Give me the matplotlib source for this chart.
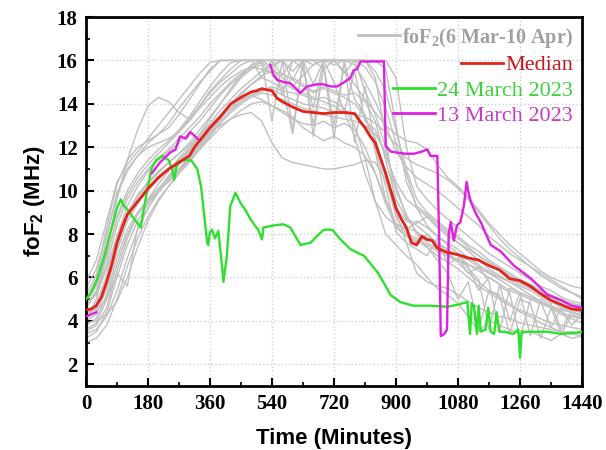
import matplotlib
matplotlib.use("Agg")
import matplotlib.pyplot as plt
from matplotlib.ticker import MultipleLocator

nan = float('nan')

# ---------------- data ----------------
minutes = [0, 30, 60, 90, 120, 150, 180, 210,
           240, 270, 300, 330, 360, 390, 420, 450,
           480, 510, 540, 570, 600, 630, 660, 690,
           720, 750, 780, 810, 840, 870, 900, 930,
           960, 990, 1020, 1050, 1080, 1110, 1140, 1170,
           1200, 1230, 1260, 1290, 1320, 1350, 1380, 1410,
           1440]

gray_days = [
    [4.0, 5.0, 7.2, 9.6, 11.4, 12.8, 13.9, 14.3,
     14.1, 13.6, 13.3, 13.9, 14.6, 15.1, 15.6, 16.0,
     16.0, 16.0, 16.0, 15.3, 16.0, 16.0, 14.9, 16.0,
     16.0, 16.0, 15.8, 15.0, 14.1, 13.0, 11.8, 11.1,
     10.6, 10.3, 10.0, 9.6, 9.2, 8.8, 8.4, 7.9,
     7.5, 7.1, 6.8, 6.5, 6.2, 5.9, 5.6, 5.3,
     5.0],
    [3.2, 3.5, 4.4, 6.0, 7.5, 8.6, 9.4, 10.0,
     10.6, 11.2, 11.8, 12.3, 12.7, 13.0, 13.3, 13.5,
     13.6, 13.2, 12.2, 11.5, 11.3, 11.2, 11.1, 11.0,
     11.0, 11.1, 11.2, 11.4, 11.3, 10.5, 9.0, 7.6,
     6.2, 5.8, 5.6, 5.5, 5.2, 4.9, 4.6, 4.4,
     4.2, 4.1, 3.9, 3.8, 3.7, 3.6, 3.5, 3.5,
     3.4],
    [5.5, 6.4, 8.0, 9.8, 10.9, 11.6, 12.2, 12.6,
     13.1, 13.8, 14.4, 15.0, 15.5, 16.0, 16.0, 16.0,
     16.0, 16.0, 16.0, 16.0, 16.0, 16.0, 16.0, 16.0,
     16.0, 16.0, 16.0, 16.0, 15.2, 12.5, 9.2, 8.6,
     8.4, 8.0, 7.6, 7.3, 7.0, 6.6, 6.3, 6.0,
     5.7, 5.4, 5.2, 5.0, 4.8, 4.6, 4.4, 4.2,
     4.1],
    [4.6, 5.3, 6.6, 8.4, 9.6, 10.4, 11.0, 11.5,
     11.9, 12.4, 12.9, 13.4, 14.0, 14.5, 15.0, 15.4,
     15.7, 15.9, 15.6, 15.2, 14.8, 15.3, 15.8, 16.0,
     16.0, 15.5, 14.9, 14.2, 13.6, 13.0, 12.6, 12.3,
     12.2, 11.9, 11.2, 10.6, 10.2, 9.7, 9.1, 8.5,
     8.0, 7.5, 7.1, 6.7, 6.3, 6.0, 5.8, 5.6,
     5.5],
    [3.8, 4.1, 5.2, 6.9, 8.2, 9.0, 9.6, 10.1,
     10.6, 11.0, 11.4, 11.9, 12.4, 12.9, 13.3, 13.7,
     14.0, 14.1, 13.9, 13.6, 13.3, 13.1, 13.0, 13.2,
     12.9, 13.1, 12.8, 12.0, 10.8, 9.4, 8.3, 7.9,
     7.7, 7.4, 7.0, 6.7, 6.4, 6.0, 5.6, 5.3,
     5.0, 4.7, 4.5, 4.3, 4.1, 3.9, 3.8, 3.7,
     3.6],
    [4.3, 4.8, 6.1, 7.9, 9.3, 10.2, 10.9, 11.4,
     11.8, 12.2, 12.7, 13.2, 13.8, 14.4, 14.9, 15.3,
     15.6, 15.8, 15.4, 14.8, 12.6, 15.9, 13.0, 15.7,
     12.4, 15.9, 14.2, 13.5, 11.8, 9.6, 8.5, 8.2,
     8.6, 8.3, 7.9, 7.6, 7.3, 6.9, 6.6, 6.2,
     5.9, 5.6, 5.3, 5.1, 4.9, 4.7, 4.5, 4.4,
     4.3],
    [3.0, 3.2, 3.8, 5.0, 6.5, 7.8, 8.8, 9.6,
     10.2, 10.8, 11.3, 11.9, 12.5, 13.1, 13.6, 14.0,
     14.3, 14.5, 14.4, 14.2, 14.0, 13.8, 13.7, 13.5,
     13.4, 13.3, 13.2, 13.0, 12.6, 11.8, 10.2, 8.8,
     8.1, 7.6, 7.3, 7.0, 6.7, 6.2, 5.8, 5.4,
     5.1, 4.8, 4.4, 4.2, 3.9, 3.7, 3.5, 3.4,
     3.3],
    [5.0, 5.9, 7.8, 9.9, 11.0, 11.6, 12.0, 12.2,
     12.4, 12.7, 13.2, 13.8, 14.3, 14.8, 15.2, 15.5,
     15.7, 15.6, 15.4, 15.0, 14.7, 14.5, 14.3, 14.1,
     13.9, 13.6, 12.5, 10.8, 9.5, 8.8, 8.4, 8.3,
     8.1, 7.8, 7.5, 7.3, 7.0, 6.8, 6.5, 6.3,
     6.0, 5.8, 5.6, 5.4, 5.1, 4.9, 4.6, 4.4,
     4.2],
    [4.8, 5.2, 6.4, 7.9, 9.0, 9.8, 10.4, 10.9,
     11.3, 11.7, 12.2, 12.8, 13.4, 14.0, 14.6, 15.2,
     15.6, 16.0, 16.0, 16.0, 15.1, 16.0, 16.0, 15.6,
     16.0, 15.4, 16.0, 14.6, 13.5, 12.0, 10.0, 8.9,
     8.0, 7.4, 6.8, 6.2, 5.0, 5.8, 3.6, 5.4,
     5.2, 3.4, 5.0, 4.8, 3.2, 4.6, 4.5, 3.8,
     4.3],
    [4.2, 4.6, 5.8, 7.4, 8.8, 9.7, 10.3, 10.8,
     11.3, 11.7, 12.1, 12.6, 13.1, 13.7, 14.2, 14.7,
     15.1, 15.5, 15.8, 16.0, 16.0, 16.0, 15.8, 16.0,
     16.0, 16.0, 16.0, 15.7, 15.0, 13.8, 12.2, 11.5,
     11.2, 11.0, 10.8, 10.5, 10.1, 9.6, 9.0, 8.4,
     7.8, 7.3, 6.9, 6.5, 6.1, 5.8, 5.5, 5.3,
     5.1],
    [3.5, 3.8, 4.6, 6.3, 7.8, 8.9, 9.6, 10.3,
     10.9, 11.5, 12.0, 12.5, 13.0, 13.5, 13.9, 14.2,
     14.4, 14.6, 14.8, 14.6, 14.5, 14.4, 14.2, 14.3,
     14.1, 13.8, 13.0, 11.5, 9.5, 8.0, 7.5, 7.0,
     6.6, 6.0, 5.5, 5.2, 4.8, 4.2, 3.5, 4.0,
     3.8, 3.6, 3.4, 3.5, 3.3, 3.1, 3.4, 3.2,
     3.3],
    [4.4, 4.5, 5.0, 6.2, 5.6, 8.3, 9.2, 9.9,
     10.5, 11.0, 11.6, 12.1, 12.7, 13.3, 13.9, 14.4,
     14.9, 15.3, 15.5, 15.4, 15.1, 14.8, 14.6, 14.7,
     14.5, 14.3, 14.0, 13.4, 12.4, 10.6, 8.8, 8.0,
     7.8, 7.5, 7.2, 7.0, 6.8, 6.6, 6.4, 6.2,
     6.0, 5.9, 5.7, 5.5, 5.3, 5.1, 4.9, 4.7,
     4.6],
    [5.2, 6.1, 8.3, 10.3, 11.4, 12.0, 12.3, 12.6,
     12.9, 13.5, 14.2, 14.9, 15.6, 16.0, 16.0, 16.0,
     16.0, 16.0, 16.0, 16.0, 16.0, 16.0, 16.0, 16.0,
     16.0, 16.0, 16.0, 16.0, 16.0, 15.6, 13.0, 10.4,
     9.3, 8.9, 8.5, 8.1, 7.8, 7.4, 7.0, 6.7,
     6.4, 6.1, 5.8, 5.5, 5.2, 4.9, 4.7, 4.5,
     4.4],
    [4.0, 4.3, 5.5, 7.2, 8.6, 9.4, 10.0, 10.5,
     11.0, 11.4, 11.9, 12.4, 12.9, 13.4, 13.8, 14.1,
     14.4, 14.6, 14.7, 14.4, 14.2, 14.0, 13.9, 13.8,
     13.6, 13.7, 13.5, 13.4, 13.1, 12.7, 12.1, 10.8,
     9.2, 8.4, 7.9, 7.5, 7.1, 6.4, 5.9, 3.6,
     5.6, 5.3, 3.2, 5.0, 4.8, 4.6, 3.4, 4.3,
     4.1],
    [3.6, 3.9, 5.0, 6.6, 8.0, 8.9, 9.5, 10.0,
     10.4, 10.9, 11.5, 12.1, 12.8, 13.4, 14.0, 14.5,
     14.9, 15.2, 15.0, 14.7, 15.2, 14.9, 14.5, 14.8,
     14.6, 14.4, 14.5, 14.1, 13.2, 11.4, 9.6, 8.7,
     8.5, 8.8, 8.4, 8.0, 7.6, 7.3, 7.0, 6.7,
     6.4, 6.1, 5.8, 5.5, 5.3, 5.1, 4.9, 4.8,
     4.7],
    [4.9, 5.6, 7.0, 8.7, 9.8, 10.6, 11.2, 11.7,
     12.2, 12.7, 13.3, 13.9, 14.5, 15.0, 15.4, 15.8,
     16.0, 16.0, 15.7, 16.0, 15.5, 16.0, 16.0, 16.0,
     15.8, 16.0, 16.0, 16.0, 15.5, 14.6, 12.8, 11.0,
     9.6, 9.0, 8.6, 8.2, 7.9, 7.5, 7.2, 6.8,
     6.5, 6.2, 5.9, 5.7, 5.4, 5.2, 5.0, 4.8,
     4.7],
    [3.4, 3.6, 4.2, 5.4, 6.9, 8.2, 9.2, 10.0,
     10.7, 11.3, 11.9, 12.6, 13.3, 14.0, 14.7, 15.3,
     15.8, 16.0, 13.2, 16.0, 12.8, 16.0, 12.5, 15.8,
     13.0, 16.0, 12.2, 14.8, 12.0, 10.2, 8.1, 7.6,
     7.3, 7.0, 7.8, 6.6, 6.9, 6.2, 6.5, 5.8,
     3.5, 5.5, 5.3, 3.3, 5.0, 4.8, 3.6, 4.5,
     4.4],
    [4.7, 5.4, 6.9, 8.8, 10.0, 10.8, 11.4, 11.9,
     12.3, 12.8, 13.4, 14.1, 14.8, 15.4, 15.9, 16.0,
     16.0, 16.0, 16.0, 16.0, 16.0, 16.0, 16.0, 16.0,
     16.0, 16.0, 16.0, 16.0, 16.0, 16.0, 15.2, 12.0,
     10.2, 9.6, 9.1, 8.7, 8.3, 7.9, 7.5, 7.1,
     6.8, 6.5, 6.2, 5.9, 5.6, 5.4, 5.1, 4.9,
     4.8],
    [3.9, 4.0, 4.3, 4.9, 6.0, 7.4, 8.6, 9.5,
     10.2, 10.8, 11.4, 12.0, 12.6, 13.2, 13.7, 14.1,
     14.4, 14.2, 13.9, 13.7, 13.4, 12.9, 12.6, 12.3,
     12.5, 12.2, 12.0, 11.6, 10.8, 9.6, 8.4, 7.9,
     7.6, 8.0, 7.4, 7.1, 6.8, 6.5, 5.4, 6.0,
     5.7, 4.0, 5.3, 5.1, 4.9, 3.7, 4.6, 4.5,
     4.4],
    [5.8, 6.8, 8.6, 10.4, 11.2, 11.8, 12.4, 13.0,
     13.6, 14.2, 14.8, 15.4, 15.9, 16.0, 16.0, 16.0,
     16.0, 15.2, 16.0, 14.4, 16.0, 15.6, 13.8, 16.0,
     15.0, 13.6, 15.5, 13.2, 12.8, 11.6, 10.4, 9.6,
     9.2, 8.8, 8.3, 7.9, 7.6, 7.2, 6.8, 6.4,
     6.1, 5.8, 5.5, 5.2, 4.9, 4.6, 4.3, 4.1,
     3.9],
]

median_t = [0, 15, 30, 45, 60, 75, 90, 105, 120,
            150, 180, 210, 240, 270, 300,
            315, 330, 345, 360,
            390, 420, 450, 480,
            495, 510, 525, 540, 555, 570,
            600, 630, 660, 690, 720, 750, 780,
            795, 810, 825, 840, 855, 870, 885, 900,
            915, 930, 945, 960, 975, 990, 1005, 1020,
            1050, 1080, 1110, 1140, 1170, 1200,
            1230, 1260, 1290, 1320, 1350, 1380, 1410, 1440]
median_f = [4.5, 4.55, 4.7, 5.1, 5.8, 6.6, 7.6, 8.3, 8.9,
            9.5, 10.1, 10.6, 11.0, 11.3, 11.6,
            12.0, 12.3, 12.6, 12.9,
            13.4, 14.0, 14.3, 14.55,
            14.6, 14.7, 14.65, 14.6, 14.25, 14.1,
            13.85, 13.65, 13.6, 13.55, 13.6, 13.6, 13.55,
            13.2, 12.9, 12.5, 12.2, 11.5, 10.8, 10.0, 9.2,
            8.7, 8.3, 7.6, 7.5, 7.9, 7.75, 7.7, 7.35,
            7.15, 7.05, 6.9, 6.8, 6.55, 6.35,
            5.95, 5.85, 5.6, 5.25, 4.95, 4.75, 4.55, 4.5]

mar24_t = [0, 15, 32, 50, 70, 90, 101, 110, 119, 135,
           159, 175, 190, 203, 222, 240, 250, 256, 265, 280,
           305, 323, 334, 343, 352, 355, 360, 366, 375, 384,
           392, 399, 409, 419, 434, 448, 463, 477, 490, 500,
           511, 515, 530, 545, 573, 593, 608, 623, 652, 670,
           690, 715, 739, 768, 807, 846, 870, 884, 913, 951,
           1000, 1049, 1080, 1107, 1115, 1120, 1126, 1135, 1140, 1146,
           1160, 1168, 1175, 1185, 1192, 1200, 1215, 1240, 1255, 1260,
           1265, 1280, 1300, 1340, 1380, 1420, 1440]
mar24_f = [5.0, 5.3, 5.9, 6.8, 8.0, 9.2, 9.6, 9.3, 9.15, 8.8,
           8.3, 9.8, 11.0, 11.4, 11.6, 11.4, 11.0, 10.5, 11.3, 11.4,
           11.4, 11.0, 10.2, 8.9, 7.6, 7.5, 8.1, 8.2, 7.8, 8.15,
           7.0, 5.8, 7.0, 9.3, 9.9, 9.45, 9.1, 8.7, 8.4, 8.2,
           7.75, 8.3, 8.35, 8.4, 8.45, 8.3, 7.9, 7.5, 7.6, 7.9,
           8.2, 8.2, 7.75, 7.3, 7.0, 6.25, 5.6, 5.2, 4.86, 4.7,
           4.7, 4.65, 4.75, 4.87, 3.4, 4.8, 4.7, 3.4, 4.7, 3.5,
           3.6, 4.6, 3.5, 3.4, 4.4, 3.5, 3.5, 3.4, 3.6, 2.3,
           3.5, 3.5, 3.5, 3.5, 3.4, 3.45, 3.5]

mar13_t = [0, 30, 100,
           191, 215, 244, 260, 273, 290, 303, 317, 330,
           430, 535, 545, 555, 575, 593,
           610, 622, 642, 670, 690, 710, 729, 750, 768,
           777, 787, 797, 830, 860, 865, 870, 885, 904,
           930, 952, 975, 991, 1000, 1020, 1025, 1030, 1040,
           1048, 1053, 1059, 1068, 1077, 1087, 1097, 1105, 1110,
           1117, 1130, 1146, 1175, 1204, 1242, 1292, 1340, 1380,
           1410, 1440]
mar13_f = [4.2, 4.4, nan,
           10.8, 11.3, 11.75, 11.9, 12.5, 12.4, 12.7, 12.5, 12.3,
           nan, 15.8, 15.3, 15.1, 15.0, 14.95,
           14.7, 14.5, 14.8, 14.9, 14.9, 14.8, 14.8, 15.0, 15.2,
           15.55, 15.6, 15.95, 15.95, 15.95, 15.95, 12.05, 11.8, 11.75,
           11.7, 11.7, 11.8, 11.9, 11.6, 11.6, 8.0, 3.3, 3.4,
           3.6, 8.0, 8.55, 7.7, 8.4, 8.55, 9.3, 10.4, 9.95,
           9.5, 9.0, 8.55, 7.5, 7.2, 6.55, 5.95, 5.2, 4.95,
           4.7, 4.6]

x_ticks = [0, 180, 360, 540, 720, 900, 1080, 1260, 1440]
y_ticks = [2, 4, 6, 8, 10, 12, 14, 16, 18]

legend_labels = ["foF$\\mathregular{_2}$(6 Mar-10 Apr)", "Median",
                 "24 March 2023", "13 March 2023"]

# ---------------- style ----------------
plt.rcParams['font.family'] = ['Liberation Serif', 'DejaVu Serif']
plt.rcParams['mathtext.fontset'] = 'custom'

fig = plt.figure(figsize=(6.06, 4.5), dpi=100)
ax = fig.add_axes([0.1419, 0.1422, 0.9604 - 0.1419, 0.9622 - 0.1422])

gray_c = '#c0c0c0'
red_c = '#e2231a'
green_c = '#2ee02e'
mag_c = '#e020e0'

for i, day in enumerate(gray_days):
    ax.plot(minutes, day, color=gray_c, lw=1.0,
            label=legend_labels[0] if i == 0 else None, zorder=2)
ax.plot(median_t, median_f, color=red_c, lw=2.0, label=legend_labels[1], zorder=4)
ax.plot(mar24_t, mar24_f, color=green_c, lw=1.7, label=legend_labels[2], zorder=3)
ax.plot(mar13_t, mar13_f, color=mag_c, lw=1.7, label=legend_labels[3], zorder=3)

ax.set_xlim(0, 1440)
ax.set_ylim(1, 18)
ax.set_xticks(x_ticks)
ax.set_yticks(y_ticks)
ax.xaxis.set_minor_locator(MultipleLocator(90))
ax.yaxis.set_minor_locator(MultipleLocator(1))
ax.tick_params(which='major', direction='in', length=6, width=1.5,
               labelsize=15, pad=6)
ax.tick_params(which='minor', direction='in', length=3, width=1.2)
for lab in ax.get_xticklabels() + ax.get_yticklabels():
    lab.set_fontweight('bold')
for sp in ax.spines.values():
    sp.set_linewidth(2.0)

ax.grid(True, which='major', color='#d0d0d0', linestyle=':', linewidth=1.0)
ax.set_axisbelow(True)

ax.set_xlabel('Time (Minutes)', family='Liberation Sans', fontweight='bold',
              fontsize=16, labelpad=10)
ax.set_ylabel('foF$\\mathregular{_2}$ (MHz)', family='Liberation Sans',
              fontweight='bold', fontsize=16, labelpad=7)

leg = ax.legend(loc='upper right', frameon=False, fontsize=16,
                handlelength=1.9, handletextpad=0.1, labelspacing=0.22,
                borderaxespad=0.2, borderpad=0.2)
text_colors = ['#a0a0a0', '#c8161e', '#3dd13d', '#c83cc8']
for txt, c in zip(leg.get_texts(), text_colors):
    txt.set_color(c)
leg.get_texts()[0].set_fontweight('bold')
leg.get_texts()[0].set_fontsize(14.5)
for h in leg.get_lines():
    h.set_linewidth(2.0)
# right-align legend rows (handle stays left of its text)
for col in leg._legend_handle_box.get_children():
    col.align = 'right'

fig.savefig('out.png', dpi=100)
